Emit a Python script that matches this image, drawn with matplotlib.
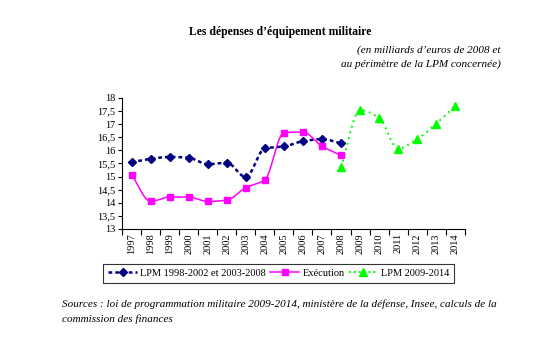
import numpy as np
import matplotlib
matplotlib.use('Agg')
import matplotlib.pyplot as plt
from matplotlib.ticker import FixedLocator, FuncFormatter

plt.rcParams['font.family'] = ['Liberation Serif', 'DejaVu Serif']

# data
years = [str(y) for y in range(1997, 2015)]
lpm_old = [15.55, 15.68, 15.75, 15.72, 15.47, 15.53, 14.98, 16.08, 16.15, 16.35, 16.43, 16.27]
execution = [15.07, 14.05, 14.22, 14.22, 14.05, 14.10, 14.58, 14.88, 16.68, 16.70, 16.16, 15.81]
lpm_new = [15.36, 17.54, 17.24, 16.07, 16.43, 17.02, 17.70]
lpm_new_start = 11  # index of 2008


def smooth(xs, ys, n=12):
    # monotone cubic curve through the data points (smoothed line, no overshoot)
    xs = np.asarray(xs, float)
    ys = np.asarray(ys, float)
    d = np.diff(ys) / np.diff(xs)
    m = np.zeros_like(ys)
    m[0], m[-1] = d[0], d[-1]
    for i in range(1, len(ys) - 1):
        if d[i - 1] * d[i] > 0:
            m[i] = 2 / (1 / d[i - 1] + 1 / d[i])
    ox, oy = [], []
    t = np.linspace(0, 1, n, endpoint=False)
    for i in range(len(xs) - 1):
        h = xs[i + 1] - xs[i]
        h00 = 2 * t ** 3 - 3 * t ** 2 + 1
        h10 = t ** 3 - 2 * t ** 2 + t
        h01 = -2 * t ** 3 + 3 * t ** 2
        h11 = t ** 3 - t ** 2
        ox.extend(xs[i] + h * t)
        oy.extend(h00 * ys[i] + h10 * h * m[i] + h01 * ys[i + 1] + h11 * h * m[i + 1])
    ox.append(xs[-1])
    oy.append(ys[-1])
    return ox, oy


fig = plt.figure(figsize=(5.5, 3.55), dpi=100)
ax = fig.add_axes([0.222, 0.355, 0.623, 0.369])

x_old = np.arange(len(lpm_old))
x_exe = np.arange(len(execution))
x_new = np.arange(lpm_new_start, lpm_new_start + len(lpm_new))

navy = '#000080'
pink = '#ff00ff'
green = '#00ff00'

sx, sy = smooth(x_old, lpm_old)
ax.plot(sx, sy, color=navy, lw=1.8, ls=(0, (1.5, 1.2)), zorder=2)
ax.plot(x_old, lpm_old, ls='none', marker='D', ms=4, color=navy, zorder=3)

sx, sy = smooth(x_exe, execution)
ax.plot(sx, sy, color=pink, lw=1.1, zorder=2)
ax.plot(x_exe, execution, ls='none', marker='s', ms=4.8, color=pink, zorder=3)

sx, sy = smooth(x_new, lpm_new)
ax.plot(sx, sy, color=green, lw=1.4, ls=(0, (1, 2)), zorder=2)
ax.plot(x_new, lpm_new, ls='none', marker='^', ms=5.2, color=green, zorder=3)

# legend proxies
h1, = ax.plot([], [], color=navy, lw=1.8, ls=(0, (1.5, 1.2)), marker='D', ms=4)
h2, = ax.plot([], [], color=pink, lw=1.1, marker='s', ms=4.8)
h3, = ax.plot([], [], color=green, lw=1.4, ls=(0, (1, 1.5)), marker='^', ms=5.2)

ax.set_xlim(-0.5, len(years) - 0.5)
ax.set_ylim(13, 18)
ax.yaxis.set_major_locator(FixedLocator(np.arange(13, 18.01, 0.5)))
ax.yaxis.set_major_formatter(FuncFormatter(lambda v, p: ('%g' % v).replace('.', ',')))
ax.set_xticks(range(len(years)))
ax.set_xticklabels(years, rotation=90)
ax.set_xticks(np.arange(-0.5, len(years)), minor=True)
ax.tick_params(axis='x', which='major', length=0, labelsize=7.5, pad=3)
ax.tick_params(axis='x', which='minor', length=4, width=0.8, direction='out')
ax.tick_params(axis='y', length=3, width=0.8, labelsize=7.5, pad=2)
for s in ('top', 'right'):
    ax.spines[s].set_visible(False)
for s in ('left', 'bottom'):
    ax.spines[s].set_linewidth(0.8)

leg = fig.legend([h1, h2, h3], ['LPM 1998-2002 et 2003-2008', 'Exécution', 'LPM 2009-2014'],
                 loc='center', bbox_to_anchor=(0.507, 0.23), ncol=3, fontsize=7.5,
                 frameon=True, fancybox=False, edgecolor='black', handlelength=2.8,
                 columnspacing=0.4, handletextpad=0.3, borderpad=0.45)
leg.get_frame().set_linewidth(0.8)

fig.text(0.51, 0.91, "Les dépenses d’équipement militaire", ha='center', va='center',
         fontsize=8.5, fontweight='bold')
fig.text(0.91, 0.84, "(en milliards d’euros de 2008 et\nau périmètre de la LPM concernée)",
         ha='right', va='center', fontsize=8, style='italic', linespacing=1.6)
fig.text(0.113, 0.123, "Sources : loi de programmation militaire 2009-2014, ministère de la défense, Insee, calculs de la\ncommission des finances",
         ha='left', va='center', fontsize=8, style='italic', linespacing=1.7)

fig.savefig('out.png', dpi=100)
